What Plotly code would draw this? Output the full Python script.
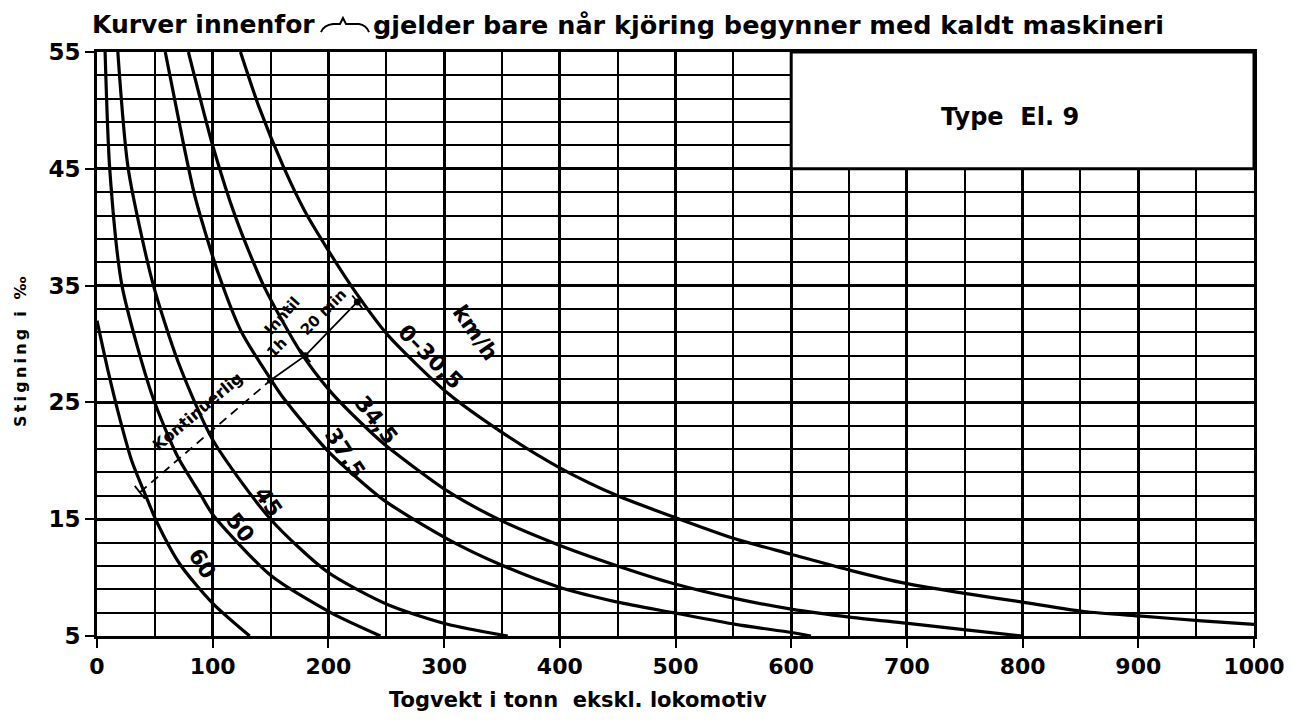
import plotly.graph_objects as go

# ---- data (tonnes, per-mille) ----
x_030 = [124, 140, 161, 180, 200, 223, 251, 303, 349, 400, 450, 498, 552, 600, 652, 699, 753, 800, 853, 903, 955, 1000]
y_030 = [55, 50.3, 45.2, 41.3, 38.0, 34.5, 30.8, 25.8, 22.5, 19.4, 17.0, 15.2, 13.3, 12.0, 10.6, 9.5, 8.6, 7.9, 7.1, 6.7, 6.3, 6.0]

x_345 = [79, 100, 120, 144, 176, 202, 234, 251, 303, 349, 399, 450, 498, 552, 600, 652, 699, 753, 800]
y_345 = [55, 47, 40.8, 35, 29.3, 25.9, 22.7, 21.2, 17.4, 14.9, 12.8, 11.0, 9.5, 8.2, 7.3, 6.6, 6.1, 5.5, 5.0]

x_375 = [59, 74, 85, 104, 125, 150, 161, 199, 247, 303, 349, 399, 450, 498, 552, 600, 617]
y_375 = [55, 47.5, 42.5, 36.3, 31, 27, 25.4, 20.9, 16.7, 13.3, 11.1, 9.2, 7.9, 7.0, 6.0, 5.3, 5.0]

x_45 = [18, 27, 48, 70, 100, 150, 199, 251, 303, 355]
y_45 = [55, 45, 35.3, 28.5, 21.8, 15.0, 10.5, 7.7, 6.0, 5.0]

x_50 = [7, 11, 21.6, 48, 70, 89, 100, 150, 202, 245]
y_50 = [55, 45, 35, 25.5, 20.3, 17.2, 15.4, 10.2, 7.0, 5.0]

x_60 = [0, 10, 20, 30, 43, 52, 72, 100, 132]
y_60 = [32, 27.5, 23.5, 20, 16.8, 14.7, 11.1, 7.8, 5.0]

curves = [(x_030, y_030), (x_345, y_345), (x_375, y_375), (x_45, y_45), (x_50, y_50), (x_60, y_60)]

# continuous rating (dashed) and short-time rating points
cont_x = [37, 150]
cont_y = [17.3, 26.9]
short_x = [150, 180, 225]
short_y = [26.9, 29.0, 33.6]

# curve labels: text, x, y, angle
label_text = ["km/h", "0–30,5", "34,5", "37,5", "45", "50", "60"]
label_x = [327, 288, 241, 214, 148, 124, 91]
label_y = [31.0, 28.9, 23.5, 20.7, 16.5, 14.3, 11.2]
label_ang = [55, 45, 52, 57, 55, 52, 57]

x_ticks = [0, 100, 200, 300, 400, 500, 600, 700, 800, 900, 1000]
y_ticks = [5, 15, 25, 35, 45, 55]

FONT = "DejaVu Sans"
OFF = 8  # page body margin
W, H = 1292 - OFF, 723 - OFF
ML, MR, MT, MB = 97 - OFF, 38, 52 - OFF, 87
PW, PH = W - ML - MR, H - MT - MB


def px2paper(px, py):
    fx, fy = px - OFF, py - OFF
    return (fx - ML) / PW, (H - MB - fy) / PH


def bold(s):
    return "<b>" + s + "</b>"


fig = go.Figure()
for cx, cy in curves:
    fig.add_trace(go.Scatter(x=cx, y=cy, mode="lines",
                             line=dict(color="black", width=3.2, shape="spline", smoothing=0.7),
                             hoverinfo="skip", showlegend=False))

fig.add_trace(go.Scatter(x=cont_x, y=cont_y, mode="lines",
                         line=dict(color="black", width=1.8, dash="9px,6px"),
                         showlegend=False, hoverinfo="skip"))
fig.add_trace(go.Scatter(x=short_x, y=short_y, mode="lines+markers",
                         line=dict(color="black", width=1.8),
                         marker=dict(color="black", size=7),
                         showlegend=False, hoverinfo="skip"))

# small perpendicular ticks at the rating points
for tx, ty in zip(short_x[1:] + [cont_x[0]], short_y[1:] + [cont_y[0]]):
    fig.add_shape(type="line", x0=tx - 4.4, y0=ty + 0.55, x1=tx + 4.4, y1=ty - 0.55,
                  line=dict(color="black", width=1.8))

for t, lx, ly, a in zip(label_text, label_x, label_y, label_ang):
    fig.add_annotation(x=lx, y=ly, text=bold(t), textangle=a, showarrow=False,
                       font=dict(family=FONT, size=22, color="black"))

fig.add_annotation(x=87, y=24.2, text=bold("Kontinuerlig"), textangle=-40, showarrow=False,
                   font=dict(family=FONT, size=16, color="black"))
fig.add_annotation(x=160, y=32.4, text=bold("Inntil"), textangle=-48, showarrow=False,
                   font=dict(family=FONT, size=15, color="black"))
fig.add_annotation(x=155, y=29.7, text=bold("1h"), textangle=-45, showarrow=False,
                   font=dict(family=FONT, size=15, color="black"))
fig.add_annotation(x=196, y=32.7, text=bold("20 min"), textangle=-45, showarrow=False,
                   font=dict(family=FONT, size=15, color="black"))

# Type box
fig.add_shape(type="rect", x0=600, x1=1000, y0=45, y1=55, fillcolor="white",
              line=dict(color="black", width=3), layer="above")
fig.add_annotation(x=789, y=49.4, text=bold("Type  El. 9"), showarrow=False,
                   font=dict(family=FONT, size=24, color="black"))

# title in two parts with a drawn brace between them
tx0, ty0 = px2paper(90, 25)
fig.add_annotation(xref="paper", yref="paper", x=tx0, y=ty0, xanchor="left", yanchor="middle",
                   text=bold("Kurver innenfor"), showarrow=False,
                   font=dict(family=FONT, size=25, color="black"))
tx1, ty1 = px2paper(1166, 25)
fig.add_annotation(xref="paper", yref="paper", x=tx1, y=ty1, xanchor="right", yanchor="middle",
                   text=bold("gjelder bare når kjöring begynner med kaldt maskineri"), showarrow=False,
                   font=dict(family=FONT, size=25.5, color="black"))

b = [px2paper(a, c) for a, c in [(321, 32), (324, 25), (333, 24), (340, 24), (343, 18),
                                 (346, 24), (359, 24), (366, 25), (369, 32)]]
path = ("M {0[0]:.4f},{0[1]:.4f} Q {1[0]:.4f},{1[1]:.4f} {2[0]:.4f},{2[1]:.4f} "
        "L {3[0]:.4f},{3[1]:.4f} L {4[0]:.4f},{4[1]:.4f} L {5[0]:.4f},{5[1]:.4f} "
        "L {6[0]:.4f},{6[1]:.4f} Q {7[0]:.4f},{7[1]:.4f} {8[0]:.4f},{8[1]:.4f}").format(*b)
fig.add_shape(type="path", xref="paper", yref="paper", path=path,
              line=dict(color="black", width=2))

ax, ay = px2paper(578, 700)
fig.add_annotation(xref="paper", yref="paper", x=ax, y=ay, xanchor="center", yanchor="middle",
                   text=bold("Togvekt i tonn  ekskl. lokomotiv"), showarrow=False,
                   font=dict(family=FONT, size=21, color="black"))
yx, yy = px2paper(20, 352)
fig.add_annotation(xref="paper", yref="paper", x=yx, y=yy, textangle=-90,
                   xanchor="center", yanchor="middle",
                   text=bold("S\u2009t\u2009i\u2009g\u2009n\u2009i\u2009n\u2009g\u2009 \u2009i\u2009 \u2009‰"),
                   showarrow=False, font=dict(family=FONT, size=16, color="black"))

fig.update_xaxes(range=[0, 1000], tickvals=x_ticks, ticktext=[bold(str(v)) for v in x_ticks],
                 ticks="outside", ticklen=9, tickwidth=2, tickcolor="black",
                 showgrid=True, gridcolor="black", gridwidth=2.6,
                 minor=dict(dtick=50, tick0=0, showgrid=True, gridcolor="black", gridwidth=1.8),
                 showline=True, linecolor="black", linewidth=3, mirror=True, automargin=False,
                 zeroline=False, tickfont=dict(family=FONT, size=22, color="black"))
fig.update_yaxes(range=[5, 55], tickvals=y_ticks, ticktext=[bold(str(v)) for v in y_ticks],
                 ticks="outside", ticklen=9, tickwidth=2, tickcolor="black",
                 showgrid=True, gridcolor="black", gridwidth=2.8,
                 minor=dict(dtick=2, tick0=5, showgrid=True, gridcolor="black", gridwidth=1.8),
                 showline=True, linecolor="black", linewidth=3, mirror=True, automargin=False,
                 zeroline=False, tickfont=dict(family=FONT, size=23, color="black"))

fig.update_layout(width=W, height=H, plot_bgcolor="white", paper_bgcolor="white",
                  margin=dict(l=ML, r=MR, t=MT, b=MB), showlegend=False)

fig.write_html("out.html")
